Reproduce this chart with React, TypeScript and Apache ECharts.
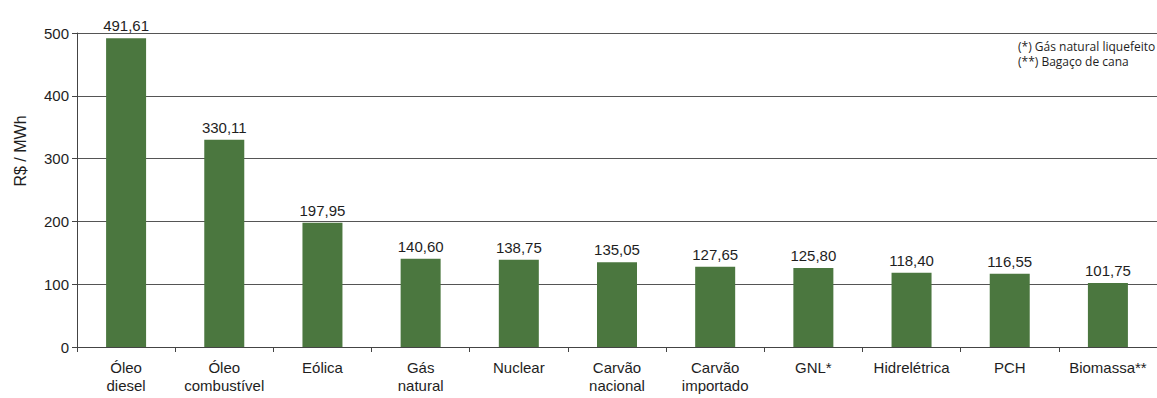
import React, { useEffect, useRef } from "react";
import * as echarts from "echarts";

// Custo de geração por fonte (R$ / MWh)
const categories: string[] = [
  "Óleo\ndiesel",
  "Óleo\ncombustível",
  "Eólica",
  "Gás\nnatural",
  "Nuclear",
  "Carvão\nnacional",
  "Carvão\nimportado",
  "GNL*",
  "Hidrelétrica",
  "PCH",
  "Biomassa**",
];
const values: number[] = [491.61, 330.11, 197.95, 140.6, 138.75, 135.05, 127.65, 125.8, 118.4, 116.55, 101.75];
const yTicks = { min: 0, max: 500, interval: 100 };
const axisTitle = "R$ / MWh";
const footnotes: string[] = ["(*) Gás natural liquefeito", "(**) Bagaço de cana"];

const SANS = "'Liberation Sans', Arial, sans-serif";
const fmt = (v: number) => v.toFixed(2).replace(".", ",");

export default function App() {
  const ref = useRef<HTMLDivElement>(null);

  useEffect(() => {
    if (!ref.current) return;
    const chart = echarts.init(ref.current, undefined, { renderer: "svg" });
    chart.setOption({
      animation: false,
      backgroundColor: "#ffffff",
      grid: { left: 77, top: 33, bottom: 51, right: -10, containLabel: false },
      xAxis: {
        type: "category",
        data: categories,
        axisLine: { lineStyle: { color: "#444", width: 1 } },
        axisTick: { show: true, alignWithLabel: false, length: 5, lineStyle: { color: "#444" } },
        axisLabel: {
          interval: 0,
          color: "#1e1e1e",
          fontFamily: SANS,
          fontSize: 15,
          lineHeight: 18,
          margin: 11,
        },
      },
      yAxis: {
        type: "value",
        min: yTicks.min,
        max: yTicks.max,
        interval: yTicks.interval,
        axisLine: { show: true, lineStyle: { color: "#444", width: 1 } },
        axisTick: { show: true, length: 5, lineStyle: { color: "#444" } },
        axisLabel: { color: "#1e1e1e", fontFamily: SANS, fontSize: 15, margin: 8 },
        splitLine: { show: true, lineStyle: { color: "#555", width: 1 } },
      },
      series: [
        {
          type: "bar",
          data: values,
          barWidth: 40,
          itemStyle: { color: "#4b773f" },
          label: {
            show: true,
            position: "top",
            distance: 5,
            color: "#1e1e1e",
            fontFamily: SANS,
            fontSize: 15,
            formatter: (p: any) => fmt(p.value),
          },
        },
      ],
      graphic: [
        {
          type: "text",
          x: 20,
          y: 151,
          rotation: Math.PI / 2,
          style: {
            text: axisTitle,
            fill: "#1e1e1e",
            font: `16px ${SANS}`,
            align: "center",
            verticalAlign: "middle",
          },
        },
        ...footnotes.map((t, i) => ({
          type: "text",
          left: 1018,
          top: 40 + i * 15,
          style: {
            text: t,
            fill: "#1e1e1e",
            font: "12px 'Open Sans', 'Noto Sans', sans-serif",
          },
        })),
      ],
    });
    return () => chart.dispose();
  }, []);

  return (
    <div
      ref={ref}
      style={{ position: "fixed", left: 0, top: 0, width: 1157, height: 398 }}
    />
  );
}
